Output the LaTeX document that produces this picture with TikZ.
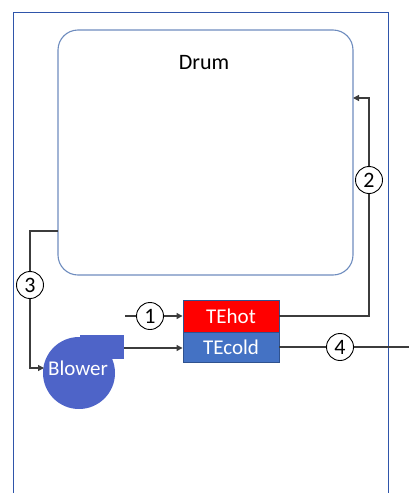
\documentclass[tikz,border=0pt]{standalone}
\usepackage{fontspec}
\setmainfont{Carlito}
\usetikzlibrary{arrows.meta}
\definecolor{frameblue}{RGB}{47,85,170}
\definecolor{drumedge}{RGB}{110,140,190}
\definecolor{coldblue}{RGB}{68,114,196}
\definecolor{blowerblue}{RGB}{78,100,200}
\definecolor{boxedge}{RGB}{47,82,143}
\definecolor{pipe}{RGB}{60,60,60}

\tikzset{
  pipeline/.style={pipe,line width=1.2pt},
  flow/.style={pipeline,-{Triangle[length=6pt,width=6pt]}},
  stateno/.style={circle,draw=black,fill=white,line width=0.9pt,inner sep=0pt,minimum size=27pt,font=\fontsize{22}{22}\selectfont},
  tebox/.style={rectangle,draw=boxedge,line width=0.9pt,minimum width=96pt,font=\fontsize{21}{21}\selectfont,text=white,inner sep=0pt}
}

\begin{document}
\begin{tikzpicture}[x=1pt,y=-1pt]
  \useasboundingbox (0,0) rectangle (408,493);
  % outer housing, open at the bottom
  \draw[frameblue,line width=0.9pt] (13,493) -- (13,12) -- (388,12) -- (388,493);
  % drum
  \node[draw=drumedge,line width=1.1pt,rounded corners=20pt,minimum width=295pt,minimum height=245pt] (drum) at (205.5,152.5) {};
  \node[font=\fontsize{22}{22}\selectfont] (drumtxt) at (204,63) {Drum};
  % blower: volute plus outlet
  \fill[blowerblue] (79,373) circle (36);
  \fill[blowerblue] (80,335) rectangle (124,359);
  \node[text=white,font=\fontsize{21}{21}\selectfont,inner sep=1pt] (blower) at (78,368) {Blower};
  \coordinate (blowerin) at (44,368);
  \coordinate (blowerout) at (124,348);
  % temperature elements
  \node[tebox,fill=red,minimum height=32pt] (tehot) at (231,316) {TEhot};
  \node[tebox,fill=coldblue,minimum height=30pt] (tecold) at (231,347) {TEcold};
  % state points
  \node[stateno] (s1) at (150,316) {1};
  \node[stateno] (s2) at (369,180) {2};
  \node[stateno] (s3) at (30,285) {3};
  \node[stateno] (s4) at (340,347) {4};
  \coordinate (ambient) at (125,316);
  \coordinate (exhaust) at (416,347);
  \coordinate (drumret) at (58,231);
  \coordinate (drumin) at (353,98);
  % air paths
  \draw[pipeline] (ambient) -- (s1);
  \draw[flow] (s1) -- (tehot.west);
  \draw[pipeline] (tehot.east) -| (s2);
  \draw[flow] (s2) |- (drumin);
  \draw[pipeline] (drumret) -| (s3);
  \draw[flow] (s3) |- (blowerin);
  \draw[flow] (blowerout) -- (tecold.west |- blowerout);
  \draw[pipeline] (tecold.east) -- (s4);
  \draw[flow] (s4) -- (exhaust);
\end{tikzpicture}
\end{document}
